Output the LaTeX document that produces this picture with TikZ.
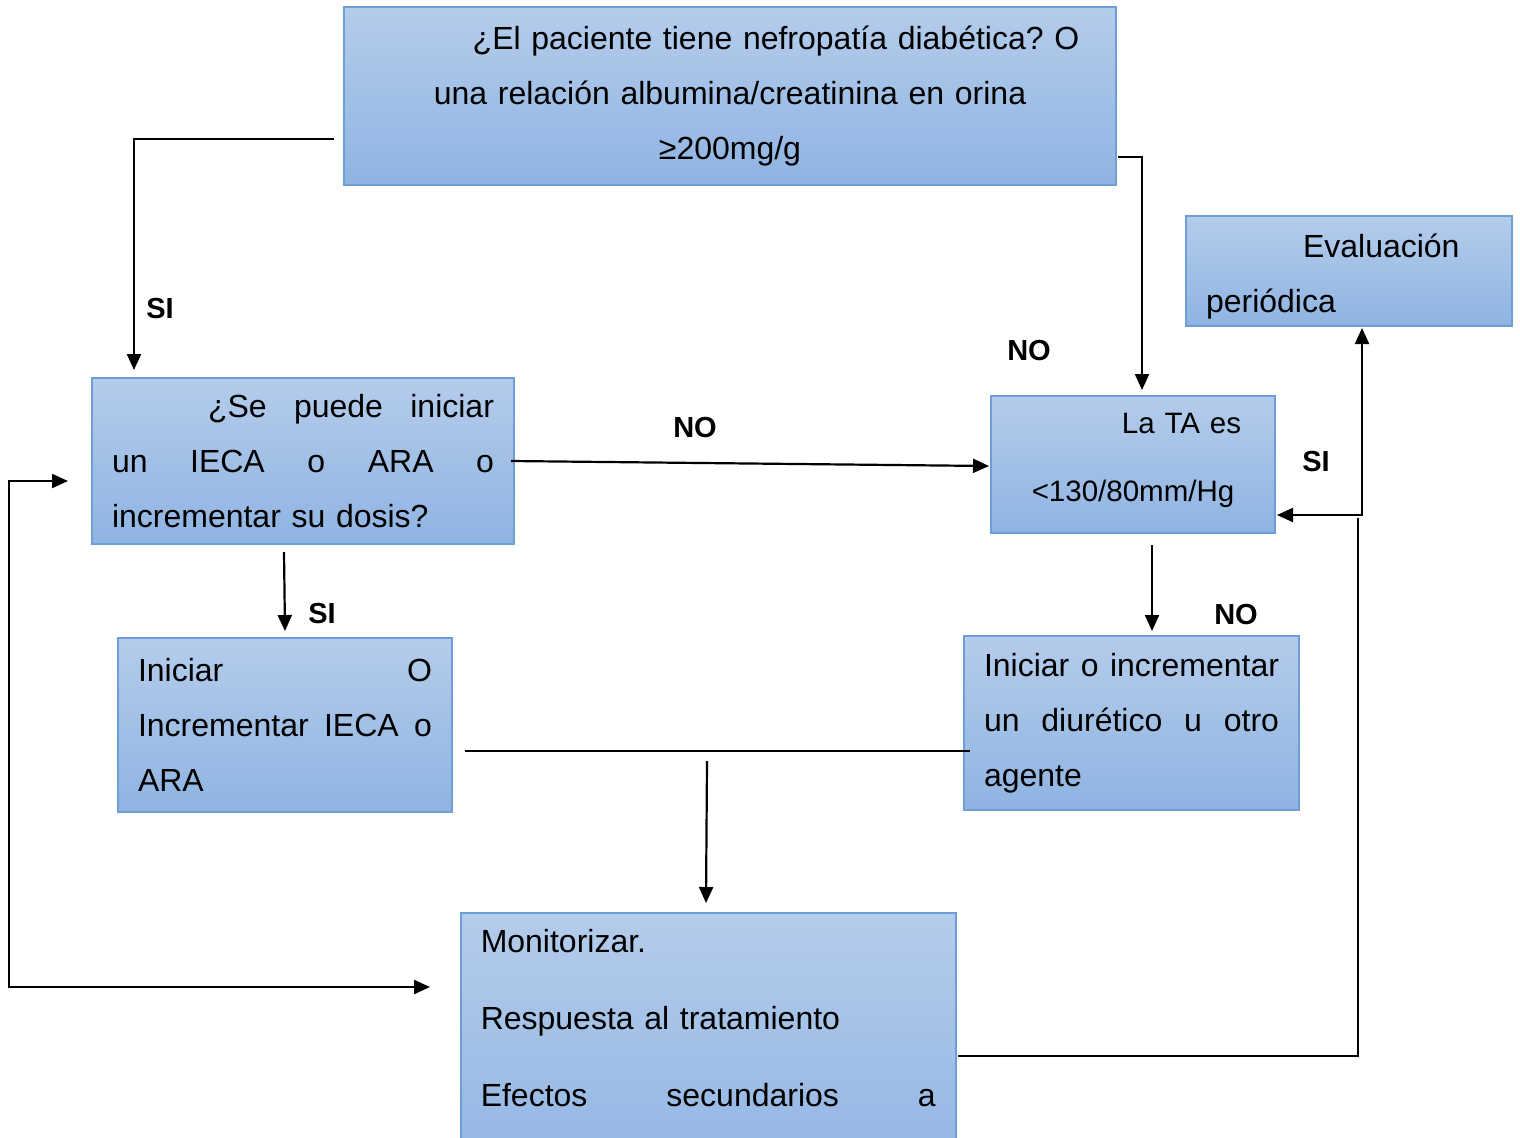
\documentclass[tikz,border=0pt]{standalone}
\usepackage{fontspec}
\setmainfont{Liberation Sans}
\usetikzlibrary{arrows.meta}
\setlength{\parindent}{0pt}
\frenchspacing
\definecolor{boxtop}{RGB}{180,204,235}
\definecolor{boxbot}{RGB}{143,180,226}
\definecolor{boxline}{RGB}{110,158,216}
\newcommand{\jline}[1]{\makebox[\hsize][s]{#1}}
\begin{document}
\begin{tikzpicture}[x=0.5pt,y=-0.5pt,
  box/.style={draw=boxline, line width=0.75pt, top color=boxtop, bottom color=boxbot,
    inner xsep=10pt, inner ysep=3.5pt, font=\fontsize{16}{27.5}\selectfont},
  arr/.style={line width=1.1pt, -{Triangle[length=8pt,width=7pt]}},
  darr/.style={line width=1.1pt, {Triangle[length=8pt,width=7pt]}-{Triangle[length=8pt,width=7pt]}},
  thinline/.style={line width=0.7pt},
  lab/.style={font=\fontsize{14.5}{16}\selectfont\bfseries, inner sep=0pt}]
\useasboundingbox (0,0) rectangle (1520,1137);
\fill[white] (0,0) rectangle (1520,1137);
\clip (0,0) rectangle (1520,1137);

% boxes
\node[box, minimum width=386pt, minimum height=89pt, text width=366pt, align=center] (q1) at (730,96)
  {\hspace*{46pt}¿El paciente tiene nefropatía diabética? O\\una relación albumina/creatinina en orina\\≥200mg/g};
\node[box, minimum width=211pt, minimum height=83pt, text width=191pt, align=left] (q2) at (303,461)
  {\jline{\hspace*{48pt}¿Se\hfill puede\hfill iniciar}\\\jline{un\hfill IECA\hfill o\hfill ARA\hfill o}\\incrementar su dosis?};
\node[box, minimum width=142pt, minimum height=68.5pt, text width=122pt, align=center,
  font=\fontsize{14.75}{34}\selectfont] (ta) at (1133,464.5)
  {\hspace*{48.5pt}La TA es\\<130/80mm/Hg\rule[-7pt]{0pt}{0pt}};
\node[box, minimum width=163pt, minimum height=55pt, text width=143pt, align=left] (ev) at (1349,271)
  {\hspace*{48.5pt}\rule{0pt}{17pt}Evaluación\\periódica};
\node[box, minimum width=167pt, minimum height=87pt, text width=147pt, align=left] (ini) at (285,725)
  {\jline{Iniciar\hfill O}\\\jline{Incrementar\hfill IECA\hfill o}\\ARA};
\node[box, minimum width=167.5pt, minimum height=87pt, text width=147.5pt, align=left] (diu) at (1131.5,723)
  {\jline{Iniciar\hfill o\hfill incrementar}\\\jline{un\hfill diurético\hfill u\hfill otro}\\agente};
\node[box, anchor=north west, minimum width=247.5pt, text width=227.5pt, align=left,
  font=\fontsize{16}{38.5}\selectfont] (mon) at (460,912)
  {\rule{0pt}{16.5pt}Monitorizar.\\Respuesta al tratamiento\\\jline{Efectos\hfill secundarios\hfill a}\\\mbox{}};

% connector points
\coordinate (a1s) at (334,139); \coordinate (a1b) at (134,139); \coordinate (a1e) at (134,370);
\coordinate (a2s) at (1118,157); \coordinate (a2b) at (1142,157); \coordinate (a2e) at (1142,390);
\coordinate (a3s) at (511,461); \coordinate (a3e) at (989,466);
\coordinate (a4s) at (284,552); \coordinate (a4e) at (285,631);
\coordinate (a5s) at (1152,545); \coordinate (a5e) at (1152,631);
\coordinate (hL) at (465,751); \coordinate (hR) at (970,751);
\coordinate (a6s) at (707,761); \coordinate (a6e) at (706,903);
\coordinate (lpA) at (68,481); \coordinate (lpB) at (9,481); \coordinate (lpC) at (9,987); \coordinate (lpD) at (430,987);
\coordinate (rtA) at (958,1056); \coordinate (rtB) at (1358,1056); \coordinate (rtC) at (1358,518);
\coordinate (siA) at (1277,515); \coordinate (siB) at (1362,515); \coordinate (siC) at (1362,328);

% connectors
\draw[arr] (a1s) -- (a1b) -- (a1e);
\draw[arr] (a2s) -- (a2b) -- (a2e);
\draw[arr] (a3s) -- (a3e);
\draw[arr] (a4s) -- (a4e);
\draw[arr] (a5s) -- (a5e);
\draw[thinline] (hL) -- (hR);
\draw[arr] (a6s) -- (a6e);
\draw[darr] (lpA) -- (lpB) -- (lpC) -- (lpD);
\draw[thinline] (rtA) -- (rtB) -- (rtC);
\draw[darr] (siA) -- (siB) -- (siC);

% labels
\node[lab] (l1) at (160,309) {SI};
\node[lab] (l2) at (1029,351) {NO};
\node[lab] (l3) at (695,428) {NO};
\node[lab] (l4) at (322,614) {SI};
\node[lab] (l5) at (1236,615) {NO};
\node[lab] (l6) at (1316,462) {SI};
\end{tikzpicture}
\end{document}
